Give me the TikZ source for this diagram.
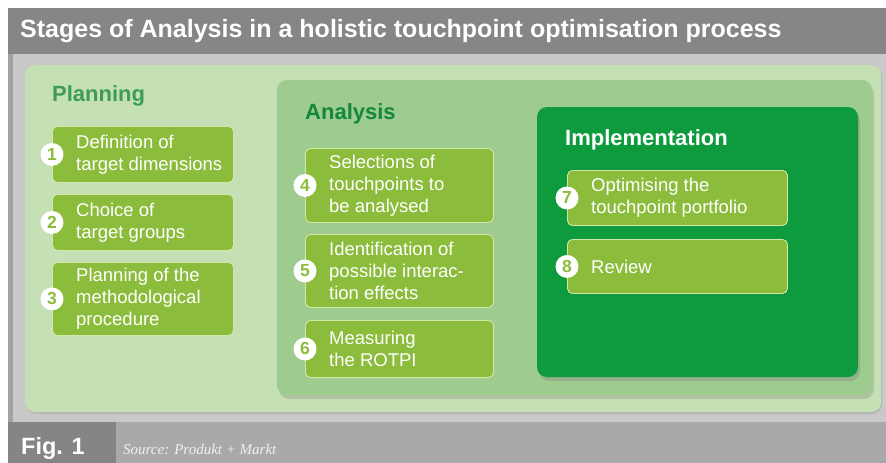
\documentclass[tikz,border=0pt]{standalone}
\usepackage{fontspec}
\setmainfont{Liberation Sans}
\newfontfamily\sourcefont{Liberation Serif}
\usetikzlibrary{shadows}

\definecolor{titlegray}{HTML}{868686}
\definecolor{framegray}{HTML}{C9C9C9}
\definecolor{framedark}{HTML}{A2A2A2}
\definecolor{footgray}{HTML}{A9A9A9}
\definecolor{figgray}{HTML}{858585}
\definecolor{planfill}{HTML}{C5E0B4}
\definecolor{anafill}{HTML}{9ECB8E}
\definecolor{impfill}{HTML}{0E9B3E}
\definecolor{boxfill}{HTML}{8CBC3B}
\definecolor{boxline}{HTML}{D2E8A6}
\definecolor{planhead}{HTML}{3E9C5A}
\definecolor{anahead}{HTML}{12883C}

\begin{document}
\begin{tikzpicture}[x=1pt,y=-1pt,
  stepbox/.style={draw=boxline, line width=0.9pt, fill=boxfill, rounded corners=5pt,
    anchor=north west, inner sep=0pt, minimum height=56pt},
  steptext/.style={anchor=west, align=left, inner sep=0pt, text=white,
    font=\fontsize{18.5}{22}\selectfont},
  num/.style={circle, fill=white, inner sep=0pt, minimum size=23pt,
    text=boxfill, font=\bfseries\fontsize{17.5}{17.5}\selectfont},
  heading/.style={anchor=base west, inner sep=0pt, font=\bfseries\fontsize{22}{22}\selectfont},
  panel/.style={rounded corners=10pt}]

\useasboundingbox (0,0) rectangle (886,463);

% frame, title and footer
\fill[titlegray] (8,8) rectangle (886,54);
\node[anchor=base west, inner sep=0pt, text=white, font=\bfseries\fontsize{25}{25}\selectfont]
  (title) at (20,37) {Stages of Analysis in a holistic touchpoint optimisation process};
\fill[framegray] (8,54) rectangle (886,422);
\fill[framedark] (8,54) rectangle (13,422);
\fill[footgray] (8,422) rectangle (886,463);
\fill[figgray] (8,422) rectangle (116,463);
\node[anchor=base west, inner sep=0pt, text=white, font=\bfseries\fontsize{23.5}{24}\selectfont]
  (fig) at (21,454) {Fig. 1};
\node[anchor=base west, inner sep=0pt, text=white!88!gray, font=\sourcefont\itshape\fontsize{15}{15}\selectfont]
  (source) at (123,454) {Source: Produkt + Markt};

% the three stages
\fill[panel, planfill, drop shadow={shadow xshift=1pt, shadow yshift=-2pt, opacity=0.25}] (25,65) rectangle (881,412);
\fill[panel, anafill, drop shadow={shadow xshift=2pt, shadow yshift=-4pt, opacity=0.3}] (277,80) rectangle (872,395);
\fill[panel, impfill, drop shadow={shadow xshift=2pt, shadow yshift=-4pt, opacity=0.35}] (537,107) rectangle (858,377);

\node[heading, text=planhead] (hplan) at (52,101) {Planning};
\node[heading, text=anahead] (hana) at (305,119) {Analysis};
\node[heading, text=white] (himp) at (565,145) {Implementation};

% Planning
\node[stepbox, minimum width=181pt] (s1) at (52,126) {};
\node[stepbox, minimum width=181pt] (s2) at (52,194) {};
\node[stepbox, minimum width=181pt, minimum height=73pt] (s3) at (52,262) {};
% Analysis
\node[stepbox, minimum width=188pt, minimum height=74pt] (s4) at (305,148) {};
\node[stepbox, minimum width=188pt, minimum height=73pt] (s5) at (305,234) {};
\node[stepbox, minimum width=188pt, minimum height=57pt] (s6) at (305,320) {};
% Implementation
\node[stepbox, minimum width=220pt, minimum height=55pt] (s7) at (567,170) {};
\node[stepbox, minimum width=220pt, minimum height=54pt] (s8) at (567,239) {};

\node[steptext] (t1) at ([xshift=24pt]s1.west) {Definition of\\target dimensions};
\node[steptext] (t2) at ([xshift=24pt]s2.west) {Choice of\\target groups};
\node[steptext] (t3) at ([xshift=24pt]s3.west) {Planning of the\\methodological\\procedure};
\node[steptext] (t4) at ([xshift=24pt]s4.west) {Selections of\\touchpoints to\\be analysed};
\node[steptext] (t5) at ([xshift=24pt]s5.west) {Identification of\\possible interac-\\tion effects};
\node[steptext] (t6) at ([xshift=24pt]s6.west) {Measuring\\the ROTPI};
\node[steptext] (t7) at ([xshift=24pt]s7.west) {Optimising the\\touchpoint portfolio};
\node[steptext] (t8) at ([xshift=24pt]s8.west) {Review};

\foreach \i in {1,...,8}
  \node[num] (n\i) at (s\i.west) {\i};

\end{tikzpicture}
\end{document}
